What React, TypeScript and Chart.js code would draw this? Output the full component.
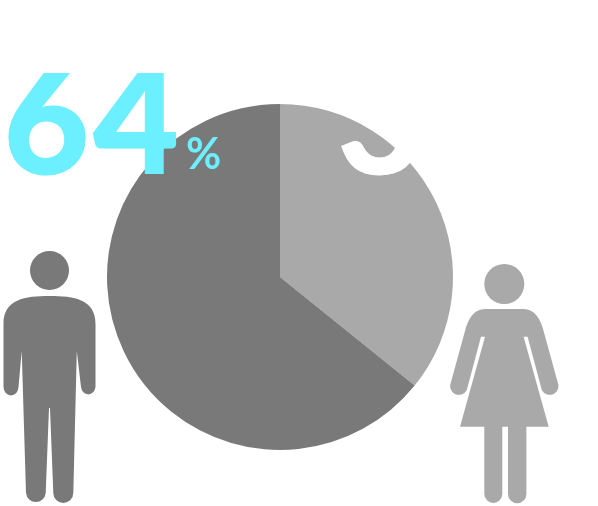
import { useEffect, useRef } from "react";
import { Chart, registerables } from "chart.js";

Chart.register(...registerables);

const genderLabels = ["Women", "Men"];
const shareValues = [35.8, 64.2];
const shareLabels = ["36", "64"];
const sliceColors = ["#a9a9a9", "#797979"];
const accentColor = "#6cefff";
const whiteColor = "#ffffff";

const FONT = "Lato, sans-serif";

function personPaths(ctx: CanvasRenderingContext2D) {
  // man
  ctx.fillStyle = sliceColors[1];
  ctx.beginPath();
  ctx.arc(49.5, 270.5, 19.5, 0, Math.PI * 2);
  ctx.fill();
  const man = new Path2D(
    "M49.5 296 C25 296 3.5 299 3.5 324 L3.5 387 A7.5 8.5 0 0 0 18.5 387 L21.7 351 L26 493 A9.9 10 0 0 0 45.7 493 L49 408 L50 408 L53.3 493 A10 10 0 0 0 73.3 493 L76.8 351 L81 387 A7.3 8.5 0 0 0 95.5 387 L95.5 324 C95.5 299 74 296 49.5 296 Z"
  );
  ctx.fill(man);
  // woman
  ctx.fillStyle = sliceColors[0];
  ctx.beginPath();
  ctx.arc(504.3, 284, 20, 0, Math.PI * 2);
  ctx.fill();
  const woman = new Path2D(
    "M485 309 C474 309 468 319 465 331 L451 382 A8.4 8.4 0 0 0 466.8 390 L481 336.7 L485 336.7 L460 426.7 L484.3 426.7 L484.3 494 A9 9 0 0 0 502.3 494 L502.3 426.7 L508 426.7 L508 494 A9.2 9.2 0 0 0 526.4 494 L526.4 426.7 L548.7 426.7 L523.6 336.7 L527.6 336.7 L541.8 390 A8.4 8.4 0 0 0 557.6 382 L543.6 331 C540.6 319 534.6 309 523.6 309 Z"
  );
  ctx.fill(woman);
}

function heavyText(ctx: CanvasRenderingContext2D, text: string, x: number, y: number, color: string) {
  ctx.fillStyle = color;
  ctx.strokeStyle = color;
  ctx.lineWidth = 1;
  ctx.fillText(text, x, y);
  ctx.strokeText(text, x, y);
}

const overlayPlugin = {
  id: "infographicOverlay",
  afterDraw(chart: Chart) {
    const ctx = chart.ctx;
    ctx.save();
    personPaths(ctx);
    ctx.beginPath();
    ctx.rect(0, 73, 598, 433);
    ctx.clip();
    ctx.textBaseline = "alphabetic";
    ctx.textAlign = "left";
    ctx.lineJoin = "miter";
    ctx.font = `900 148px ${FONT}`;
    (ctx as any).letterSpacing = "4px";
    heavyText(ctx, shareLabels[1], 3.5, 173.5, accentColor);
    heavyText(ctx, shareLabels[0], 337.5, 173.5, whiteColor);
    (ctx as any).letterSpacing = "0px";
    ctx.font = `700 43px ${FONT}`;
    ctx.fillStyle = accentColor;
    ctx.fillText("%", 186, 169);
    ctx.restore();
  },
};

export default function App() {
  const ref = useRef<HTMLCanvasElement>(null);
  useEffect(() => {
    const chart = new Chart(ref.current!, {
      type: "pie",
      data: {
        labels: genderLabels,
        datasets: [
          {
            data: shareValues,
            backgroundColor: sliceColors,
            borderWidth: 0,
          },
        ],
      },
      options: {
        responsive: false,
        animation: false,
        layout: { padding: { left: 107, right: 145, top: 104, bottom: 56 } },
        plugins: { legend: { display: false }, tooltip: { enabled: false } },
      },
      plugins: [overlayPlugin],
    });
    return () => chart.destroy();
  }, []);
  return (
    <canvas
      ref={ref}
      width={598}
      height={506}
      style={{ position: "absolute", left: 0, top: 0, width: 598, height: 506 }}
    />
  );
}
